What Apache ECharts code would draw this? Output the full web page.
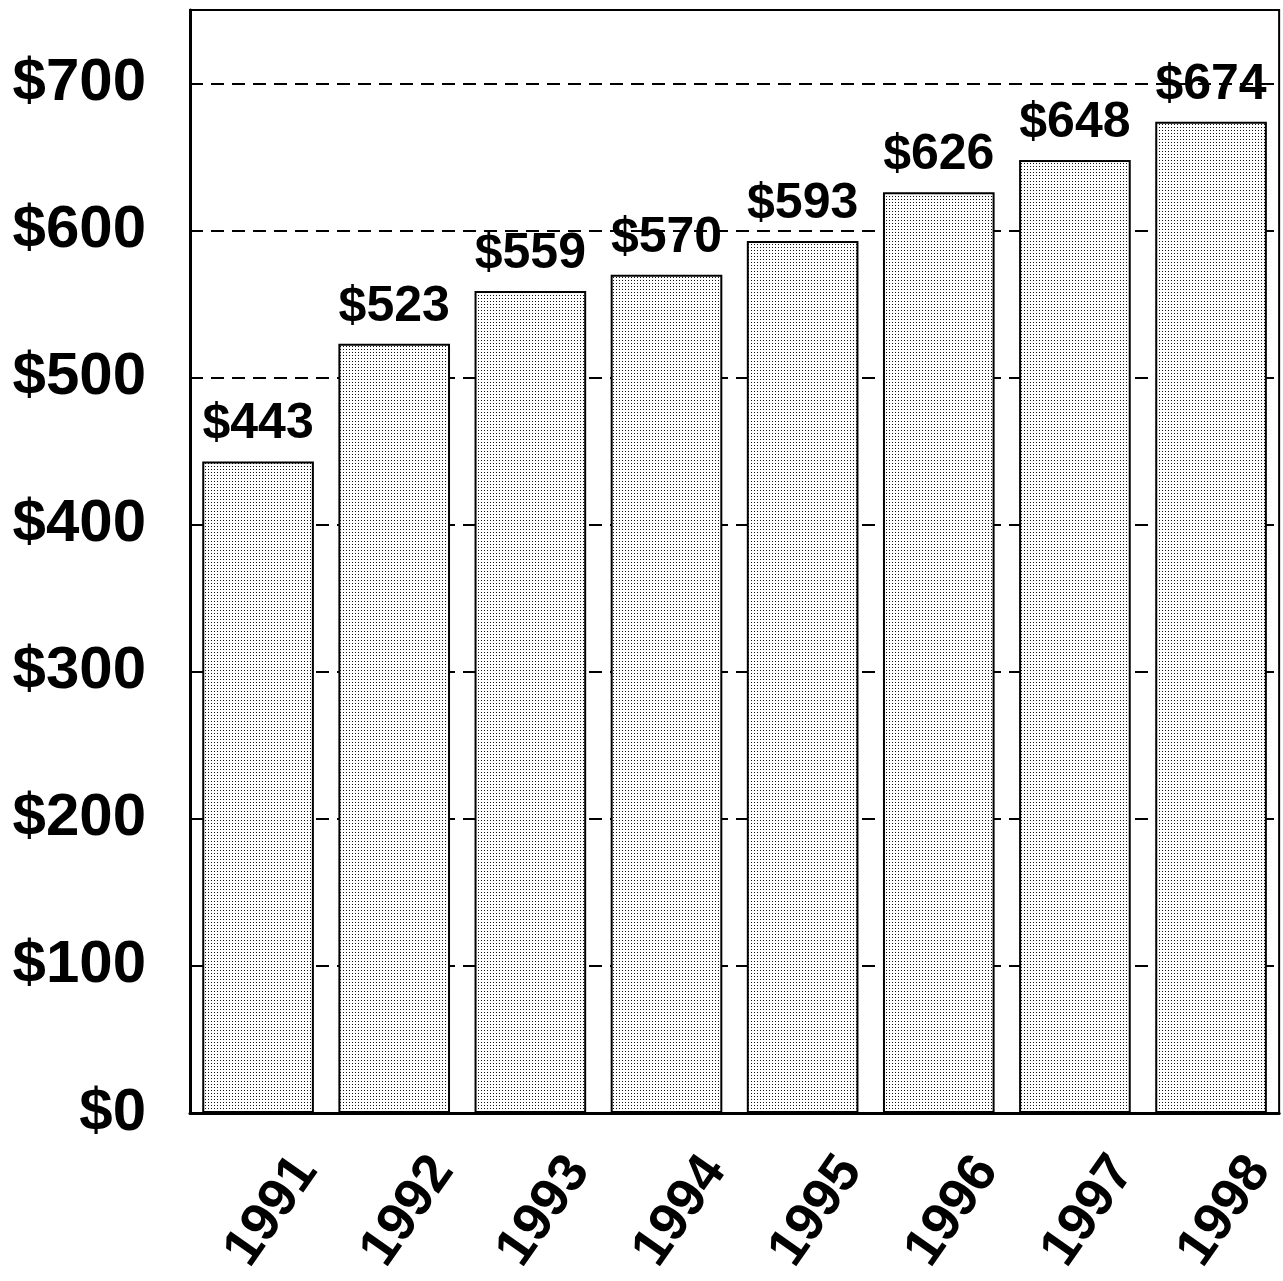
<!DOCTYPE html>
<html>
<head>
<meta charset="utf-8">
<script src="https://cdn.jsdelivr.net/npm/echarts@6/dist/echarts.min.js"></script>
<style>
  html, body { margin: 0; padding: 0; background: #fff; }
  #main { width: 1283px; height: 1281px; }
</style>
</head>
<body>
<div id="main"></div>
<script>
var years = ['1991', '1992', '1993', '1994', '1995', '1996', '1997', '1998'];
var values = [443, 523, 559, 570, 593, 626, 648, 674];
var yTicks = [0, 100, 200, 300, 400, 500, 600, 700];

// dotted halftone fill like the scanned bars
var dots = document.createElement('canvas');
dots.width = 3;
dots.height = 3;
var ctx = dots.getContext('2d');
ctx.fillStyle = '#fff';
ctx.fillRect(0, 0, 3, 3);
ctx.fillStyle = '#111';
ctx.fillRect(1, 1, 1, 1);

var font = '"Liberation Sans", Arial, sans-serif';

var myChart = echarts.init(document.getElementById('main'));

var option = {
    backgroundColor: '#fff',
    animation: false,
    grid: {
        left: 190,
        right: 2,
        top: 10,
        bottom: 168,
        show: true,
        borderColor: '#000',
        borderWidth: 2
    },
    xAxis: {
        type: 'category',
        data: years,
        axisLine: { lineStyle: { color: '#000', width: 3 } },
        axisTick: { show: false },
        axisLabel: {
            rotate: 55,
            align: 'center',
            verticalAlign: 'middle',
            margin: 118,
            padding: [0, 0, 0, 48],
            color: '#000',
            fontFamily: font,
            fontWeight: 'bold',
            fontSize: 54
        }
    },
    yAxis: {
        type: 'value',
        min: 0,
        max: 750,
        interval: 100,
        axisLine: { show: true, lineStyle: { color: '#000', width: 3 } },
        axisTick: { show: true, inside: true, length: 8, lineStyle: { color: '#000', width: 2 } },
        splitLine: {
            show: true,
            lineStyle: { color: '#000', width: 2, type: [13, 8] }
        },
        axisLabel: {
            margin: 44,
            color: '#000',
            fontFamily: font,
            fontWeight: 'bold',
            fontSize: 60,
            formatter: function (v) {
                return yTicks.indexOf(v) >= 0 ? '$' + v : '';
            }
        }
    },
    series: [{
        type: 'bar',
        data: values,
        barWidth: '82%',
        itemStyle: {
            color: { image: dots, repeat: 'repeat' },
            borderColor: '#000',
            borderWidth: 2
        },
        label: {
            show: true,
            position: 'top',
            distance: 12,
            color: '#000',
            fontFamily: font,
            fontWeight: 'bold',
            fontSize: 50,
            formatter: function (p) {
                return '$' + p.value;
            }
        }
    }]
};

myChart.setOption(option);
</script>
</body>
</html>
